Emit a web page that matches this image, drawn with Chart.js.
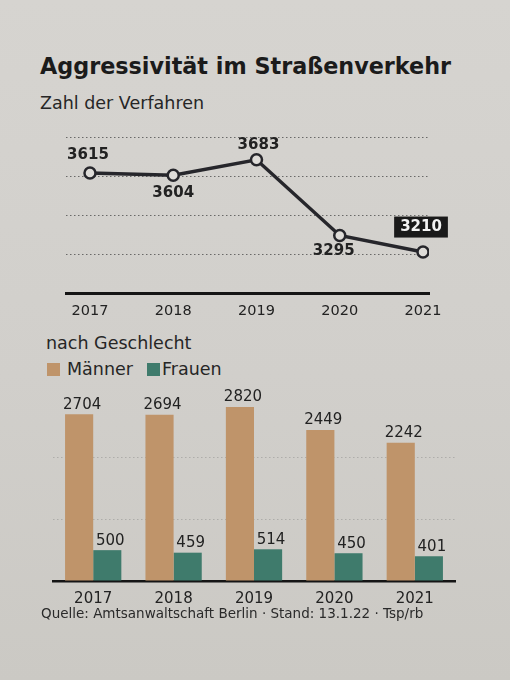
<!DOCTYPE html>
<html>
<head>
<meta charset="utf-8">
<script src="https://cdn.jsdelivr.net/npm/chart.js@4/dist/chart.umd.min.js"></script>
<style>
  html, body { margin: 0; padding: 0; }
  body {
    width: 510px; height: 680px; position: relative; overflow: hidden;
    background: linear-gradient(180deg, #d6d4d0 0%, #d1cfcb 55%, #cbc9c4 100%);
    font-family: "DejaVu Sans", sans-serif; color: #1f1f1f;
  }
  .t { position: absolute; white-space: nowrap; }
  #title { left: 40px; top: 53px; font-size: 22.3px; font-weight: bold; color: #1b1b1b; }
  #sub { left: 40px; top: 93px; font-size: 17.5px; color: #262626; }
  #sub2 { left: 46px; top: 333px; font-size: 17.5px; color: #262626; }
  #legend { left: 47px; top: 359px; font-size: 17.5px; color: #262626; }
  #legend .sw { display: inline-block; width: 13px; height: 13px; vertical-align: -1px; }
  #source { left: 41px; top: 605px; font-size: 13.5px; color: #2a2a2a; }
  canvas { position: absolute; left: 0; }
  #lineWrap { position: absolute; left: 0; top: 110px; width: 510px; height: 215px; }
  #barWrap { position: absolute; left: 0; top: 385px; width: 510px; height: 230px; }
</style>
</head>
<body>
<div class="t" id="title">Aggressivität im Straßenverkehr</div>
<div class="t" id="sub">Zahl der Verfahren</div>
<div id="lineWrap"><canvas id="lineChart"></canvas></div>
<div class="t" id="sub2">nach Geschlecht</div>
<div class="t" id="legend"><span class="sw" style="background:#bf946a;margin-right:7px"></span>Männer<span class="sw" style="background:#3f7b6c;margin-left:14px;margin-right:2px"></span>Frauen</div>
<div id="barWrap"><canvas id="barChart"></canvas></div>
<div class="t" id="source">Quelle: Amtsanwaltschaft Berlin · Stand: 13.1.22 · Tsp/rb</div>

<script>
// ---- data ----
const years = ['2017', '2018', '2019', '2020', '2021'];
const verfahren = [3615, 3604, 3683, 3295, 3210];
const maenner = [2704, 2694, 2820, 2449, 2242];
const frauen = [500, 459, 514, 450, 401];
const lineGridTicks = [3000, 3200, 3400, 3600, 3800];
const barGridTicks = [0, 1000, 2000, 3000];

// ---- styles ----
const INK = '#222222';
const ORANGE = '#bf946a';
const TEAL = '#3f7b6c';
const PAPER = '#dedcd8';

const lineLabelPlugin = {
  id: 'lineLabels',
  afterDatasetsDraw(chart, args, opts) {
    const ctx = chart.ctx;
    const meta = chart.getDatasetMeta(0);
    const ds = chart.data.datasets[0];
    ctx.save();
    ctx.font = 'bold 15px "DejaVu Sans"';
    ctx.textAlign = 'center';
    ctx.textBaseline = 'middle';
    meta.data.forEach((el, i) => {
      const v = ds.data[i].y;
      const off = opts.offsets[i];
      const x = el.x + off[0], y = el.y + off[1];
      const txt = String(v);
      if (i === opts.boxIndex) {
        const w = ctx.measureText(txt).width + 12;
        ctx.fillStyle = '#1a1a1a';
        ctx.fillRect(x - w / 2, y - 10.5, w, 21);
        ctx.fillStyle = '#f4f4f4';
        ctx.fillText(txt, x, y + 0.5);
      } else {
        ctx.fillStyle = INK;
        ctx.fillText(txt, x, y);
      }
    });
    ctx.restore();
  }
};

const barLabelPlugin = {
  id: 'barLabels',
  afterDatasetsDraw(chart) {
    const ctx = chart.ctx;
    ctx.save();
    ctx.font = '15px "DejaVu Sans"';
    ctx.textAlign = 'center';
    ctx.textBaseline = 'bottom';
    ctx.fillStyle = INK;
    chart.data.datasets.forEach((ds, di) => {
      const meta = chart.getDatasetMeta(di);
      meta.data.forEach((el, i) => {
        ctx.fillText(String(ds.data[i]), el.x + 3, el.y - 2);
      });
    });
    ctx.restore();
  }
};

new Chart(document.getElementById('lineChart'), {
  type: 'line',
  data: {
    datasets: [{
      data: years.map((y, i) => ({ x: Number(y), y: verfahren[i] })),
      borderColor: '#26262b',
      borderWidth: 3.5,
      pointRadius: 5.5,
      pointBorderWidth: 2.5,
      pointBackgroundColor: PAPER,
      pointBorderColor: '#26262b',
      tension: 0
    }]
  },
  options: {
    responsive: true, maintainAspectRatio: false, animation: false,
    layout: { padding: { left: 66, right: 81, top: 27, bottom: 2 } },
    plugins: {
      legend: { display: false }, tooltip: { enabled: false },
      lineLabels: { offsets: [[-2, -18], [0, 18], [2, -15], [-6, 16], [-2, -25]], boxIndex: 4 }
    },
    scales: {
      x: {
        type: 'linear', min: 2016.712, max: 2021.072,
        afterFit: s => { s.height = 30; },
        grid: { display: false, drawTicks: false },
        border: { display: true, color: '#151515', width: 3 },
        ticks: {
          stepSize: 1, includeBounds: false, padding: 10,
          color: INK, font: { family: 'DejaVu Sans', size: 14.5 },
          callback: v => (years.includes(String(v)) ? String(v) : '')
        }
      },
      y: {
        min: lineGridTicks[0], max: lineGridTicks[lineGridTicks.length - 1],
        afterFit: s => { s.width = 0; },
        afterBuildTicks: s => { s.ticks = lineGridTicks.map(v => ({ value: v })); },
        ticks: { display: false },
        border: { display: false, dash: [1.5, 2.5] },
        grid: {
          drawTicks: false, lineWidth: 1,
          color: c => (c.tick && c.tick.value === lineGridTicks[0] ? 'rgba(0,0,0,0)' : 'rgba(70,70,70,0.75)')
        }
      }
    }
  },
  plugins: [lineLabelPlugin]
});

new Chart(document.getElementById('barChart'), {
  type: 'bar',
  data: {
    labels: years,
    datasets: [
      { label: 'Männer', data: maenner, backgroundColor: ORANGE, categoryPercentage: 0.7, barPercentage: 1.0 },
      { label: 'Frauen', data: frauen, backgroundColor: TEAL, categoryPercentage: 0.7, barPercentage: 1.0 }
    ]
  },
  options: {
    responsive: true, maintainAspectRatio: false, animation: false,
    layout: { padding: { left: 53, right: 55, top: 14, bottom: 6 } },
    plugins: { legend: { display: false }, tooltip: { enabled: false } },
    scales: {
      x: {
        afterFit: s => { s.height = 28; },
        grid: { display: false, drawTicks: false },
        border: { display: true, color: '#151515', width: 2.5 },
        ticks: { padding: 9, color: INK, font: { family: 'DejaVu Sans', size: 15 } }
      },
      y: {
        min: barGridTicks[0], max: 2950,
        afterFit: s => { s.width = 0; },
        afterBuildTicks: s => { s.ticks = barGridTicks.slice(0, 3).map(v => ({ value: v })); },
        ticks: { display: false },
        border: { display: false, dash: [1.5, 2.5] },
        grid: {
          drawTicks: false,
          color: c => (c.tick && c.tick.value === barGridTicks[0] ? 'rgba(0,0,0,0)' : 'rgba(90,90,90,0.28)')
        }
      }
    }
  },
  plugins: [barLabelPlugin]
});
</script>
</body>
</html>
